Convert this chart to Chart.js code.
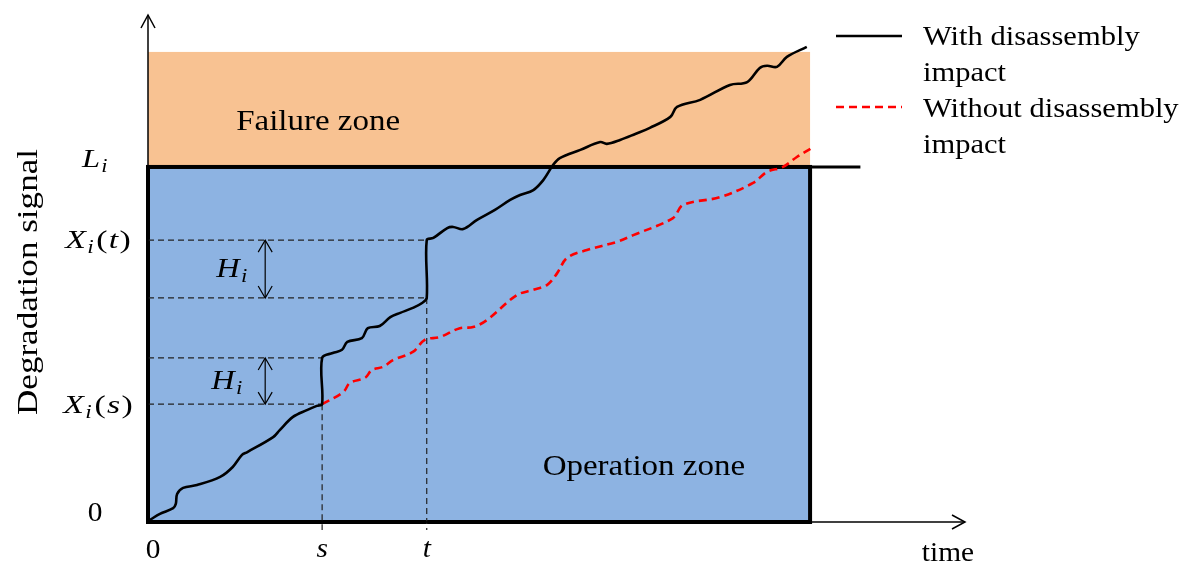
<!DOCTYPE html>
<html>
<head>
<meta charset="utf-8">
<script src="https://cdn.jsdelivr.net/npm/chart.js@4"></script>
<style>
  html, body { margin: 0; padding: 0; background: #fff; }
  #wrap { width: 1189px; height: 569px; position: relative; }
</style>
</head>
<body>
<div id="wrap"><canvas id="chart"></canvas></div>
<script>
// time / signal units (zone width = 100 time units, failure level L = 100)
const withX = [0.3, 1.8, 3.8, 4.2, 4.4, 5.3, 7.4, 10.9, 12.8, 14.2, 15.0, 18.9, 19.9, 21.9, 24.0, 25.5, 26.3,
  26.3, 27.9, 29.3, 30.1, 32.3, 33.2, 35.0, 36.6, 38.1, 40.0, 41.4, 42.1,
  42.1, 43.1, 45.2, 46.1, 47.6, 49.7, 52.4, 54.7, 56.2, 58.2, 59.7, 61.2, 62.2, 65.3, 68.3, 69.3, 71.3,
  73.6, 75.8, 78.9, 79.9, 83.4, 87.9, 90.5, 92.4, 93.5, 95.0, 96.5, 99.5];
const withY = [0.6, 2.3, 3.9, 5.1, 7.9, 9.6, 10.4, 12.7, 15.5, 18.9, 19.7, 23.9, 25.9, 29.6, 31.5, 32.7, 33.2,
  46.2, 47.6, 48.5, 50.7, 51.8, 54.6, 55.2, 57.7, 58.9, 60.3, 61.7, 63.1,
  79.4, 80.0, 82.8, 83.1, 82.5, 85.1, 87.9, 90.7, 92.1, 93.5, 96.3, 100.6, 102.5, 104.8, 107.0, 106.5, 107.6,
  109.3, 111.0, 114.1, 116.9, 118.9, 123.1, 123.9, 127.9, 128.5, 128.2, 131.0, 133.8];

const withoutX = [26.3, 29.5, 30.5, 32.8, 33.8, 35.5, 37.0, 40.0, 41.8, 44.1, 47.1, 49.1, 51.2, 55.7, 58.2,
  60.3, 61.8, 63.3, 66.3, 70.8, 73.3, 79.3, 80.8, 86.4, 91.4, 93.5, 95.9, 98.0, 100.3];
const withoutY = [33.2, 36.6, 39.2, 40.6, 42.8, 43.7, 45.6, 47.9, 51.3, 52.1, 54.6, 54.9, 56.9, 63.9, 65.4,
  66.8, 70.1, 74.4, 76.6, 78.9, 80.8, 85.6, 89.3, 91.5, 95.5, 98.6, 100.0, 102.8, 105.4];

const seriesNames = ['With disassembly\nimpact', 'Without disassembly\nimpact'];

const levelL = 100;        // failure threshold L_i
const zoneEnd = 100;       // end of the zones on the time axis
const failTop = 132.4;     // top of failure zone
const lLineEnd = 107.6;    // L_i line runs a bit past the zones
const sTime = 26.3, tTime = 42.1;
const xsLevel = 33.2, xsJump = 46.2;   // X_i(s) and X_i(s)+H_i
const xtBefore = 63.1, xtLevel = 79.4; // X_i(t)-H_i and X_i(t)
const xMax = 123.4, yMax = 142.8;

const toPts = (xs, ys) => xs.map((v, i) => ({ x: v, y: ys[i] }));

const serif = '"Liberation Serif", "Times New Roman", serif';

// text with a horizontal stretch (the source figure's fonts are wider than Times)
function wideText(ctx, text, x, y, font, sx, align) {
  ctx.save();
  ctx.font = font;
  ctx.textBaseline = 'alphabetic';
  ctx.textAlign = 'left';
  const w = ctx.measureText(text).width * sx;
  const x0 = align === 'center' ? x - w / 2 : (align === 'right' ? x - w : x);
  ctx.translate(x0, y);
  ctx.scale(sx, 1);
  ctx.fillText(text, 0, 0);
  ctx.restore();
}

function mathLabel(ctx, x, y, main, sub, arg, size, sx) {
  // draws  main_sub(arg)  centred on x, baseline y
  ctx.save();
  ctx.textBaseline = 'alphabetic';
  ctx.textAlign = 'left';
  const big = 'italic ' + size + 'px ' + serif;
  const small = 'italic ' + Math.round(size * 0.7) + 'px ' + serif;
  const up = size + 'px ' + serif;
  const pieces = [[main, big, 0, 1], [sub, small, size * 0.2, 2]];
  if (arg) pieces.push(['(', up, 0, 1], [arg, big, 0, 1], [')', up, 0, 0]);
  let w = 0;
  pieces.forEach(p => { ctx.font = p[1]; w += ctx.measureText(p[0]).width + p[3]; });
  ctx.translate(x - w * sx / 2, y);
  ctx.scale(sx, 1);
  let cx = 0;
  pieces.forEach(p => {
    ctx.font = p[1];
    ctx.fillText(p[0], cx, p[2]);
    cx += ctx.measureText(p[0]).width + p[3];
  });
  ctx.restore();
}

function arrowHead(ctx, x, y, dir, len, half) {
  ctx.beginPath();
  if (dir === 'up') { ctx.moveTo(x - half, y + len); ctx.lineTo(x, y); ctx.lineTo(x + half, y + len); }
  if (dir === 'down') { ctx.moveTo(x - half, y - len); ctx.lineTo(x, y); ctx.lineTo(x + half, y - len); }
  if (dir === 'right') { ctx.moveTo(x - len, y - half); ctx.lineTo(x, y); ctx.lineTo(x - len, y + half); }
  ctx.stroke();
}

const decor = {
  id: 'decor',
  beforeDatasetsDraw(chart) {
    const { ctx, scales: { x, y } } = chart;
    const px = v => x.getPixelForValue(v), py = v => y.getPixelForValue(v);
    ctx.save();
    // zones
    ctx.fillStyle = '#F8C292';
    ctx.fillRect(px(0), py(failTop), px(zoneEnd) - px(0), py(levelL) - py(failTop));
    ctx.fillStyle = '#8DB3E2';
    ctx.fillRect(px(0), py(levelL), px(zoneEnd) - px(0), py(0) - py(levelL));
    ctx.strokeStyle = '#000';
    ctx.lineWidth = 4;
    ctx.strokeRect(px(0), py(levelL), px(zoneEnd) - px(0), py(0) - py(levelL));
    // L_i line
    ctx.lineWidth = 3;
    ctx.beginPath(); ctx.moveTo(px(0), py(levelL)); ctx.lineTo(px(lLineEnd), py(levelL)); ctx.stroke();

    // dashed guides
    ctx.strokeStyle = '#222';
    ctx.lineWidth = 1.2;
    ctx.setLineDash([6, 4]);
    const hGuide = (lv, to) => { ctx.beginPath(); ctx.moveTo(px(0), py(lv)); ctx.lineTo(px(to), py(lv)); ctx.stroke(); };
    hGuide(xsLevel, sTime); hGuide(xsJump, sTime); hGuide(xtBefore, tTime); hGuide(xtLevel, tTime);
    const vGuide = (t, from) => { ctx.beginPath(); ctx.moveTo(px(t), py(from)); ctx.lineTo(px(t), py(0) + 8); ctx.stroke(); };
    vGuide(sTime, xsLevel); vGuide(tTime, xtBefore);
    ctx.setLineDash([]);

    // axes with arrows
    ctx.strokeStyle = '#000';
    ctx.lineWidth = 1.5;
    ctx.beginPath(); ctx.moveTo(px(0), py(0)); ctx.lineTo(px(0), py(yMax)); ctx.stroke();
    ctx.beginPath(); ctx.moveTo(px(0), py(0)); ctx.lineTo(px(xMax), py(0)); ctx.stroke();
    arrowHead(ctx, px(0), py(yMax), 'up', 13, 7);
    arrowHead(ctx, px(xMax), py(0), 'right', 13, 7);
    ctx.restore();
  },
  afterDatasetsDraw(chart) {
    const { ctx, scales: { x, y } } = chart;
    const px = v => x.getPixelForValue(v), py = v => y.getPixelForValue(v);
    ctx.save();
    ctx.fillStyle = '#000';
    ctx.strokeStyle = '#000';

    // H_i double arrows
    const hx = px(17.7);
    ctx.lineWidth = 1.2;
    [[xtLevel, xtBefore], [xsJump, xsLevel]].forEach(([a, b]) => {
      ctx.beginPath(); ctx.moveTo(hx, py(a)); ctx.lineTo(hx, py(b)); ctx.stroke();
      arrowHead(ctx, hx, py(a), 'up', 12, 7);
      arrowHead(ctx, hx, py(b), 'down', 12, 7);
    });
    mathLabel(ctx, 233, py((xtLevel + xtBefore) / 2) + 8, 'H', 'i', null, 27, 1.2);
    mathLabel(ctx, 228, py((xsJump + xsLevel) / 2) + 8, 'H', 'i', null, 27, 1.2);

    // zone labels
    wideText(ctx, 'Failure zone', px(25.7), py(110.4), '30px ' + serif, 1.1, 'center');
    wideText(ctx, 'Operation zone', px(74.9), py(13.2), '30px ' + serif, 1.1, 'center');

    // y tick labels
    mathLabel(ctx, 96, py(levelL), 'L', 'i', null, 26, 1.25);
    mathLabel(ctx, 98, py(xtLevel) + 8, 'X', 'i', 't', 26, 1.3);
    mathLabel(ctx, 98, py(xsLevel) + 9, 'X', 'i', 's', 26, 1.3);
    wideText(ctx, '0', 95, py(0) - 1, '28px ' + serif, 1.05, 'center');

    // x tick labels
    wideText(ctx, '0', px(0) + 5, py(0) + 36, '28px ' + serif, 1.05, 'center');
    wideText(ctx, 's', px(sTime), py(0) + 35, 'italic 28px ' + serif, 1.05, 'center');
    wideText(ctx, 't', px(tTime), py(0) + 35, 'italic 28px ' + serif, 1.05, 'center');
    wideText(ctx, 'time', 948, py(0) + 39, '28px ' + serif, 1.05, 'center');

    // y axis title
    ctx.save();
    ctx.translate(37, 282);
    ctx.rotate(-Math.PI / 2);
    wideText(ctx, 'Degradation signal', 0, 0, '30px ' + serif, 1.17, 'center');
    ctx.restore();

    // legend
    const ds = chart.data.datasets;
    const rows = [36, 107];
    const base = [45, 117];
    ds.forEach((d, i) => {
      ctx.strokeStyle = d.borderColor;
      ctx.lineWidth = 2.5;
      ctx.setLineDash(d.borderDash || []);
      ctx.beginPath(); ctx.moveTo(836, rows[i]); ctx.lineTo(902, rows[i]); ctx.stroke();
      ctx.setLineDash([]);
      d.label.split('\n').forEach((ln, k) => wideText(ctx, ln, 923, base[i] + k * 36, '28px ' + serif, 1.09, 'left'));
    });
    ctx.restore();
  }
};

new Chart(document.getElementById('chart'), {
  type: 'scatter',
  data: {
    datasets: [
      { label: seriesNames[0], data: toPts(withX, withY), showLine: true, borderColor: '#000',
        borderWidth: 2.6, pointRadius: 0, tension: 0.35, fill: false },
      { label: seriesNames[1], data: toPts(withoutX, withoutY), showLine: true, borderColor: '#FF0000',
        borderWidth: 2.6, borderDash: [8, 5], pointRadius: 0, tension: 0.35, fill: false }
    ]
  },
  options: {
    responsive: true,
    maintainAspectRatio: false,
    animation: false,
    layout: { padding: { left: 148, right: 224, top: 15, bottom: 47 } },
    scales: {
      x: { type: 'linear', min: 0, max: xMax, display: false },
      y: { type: 'linear', min: 0, max: yMax, display: false }
    },
    plugins: { legend: { display: false }, tooltip: { enabled: false } }
  },
  plugins: [decor]
});
</script>
</body>
</html>
